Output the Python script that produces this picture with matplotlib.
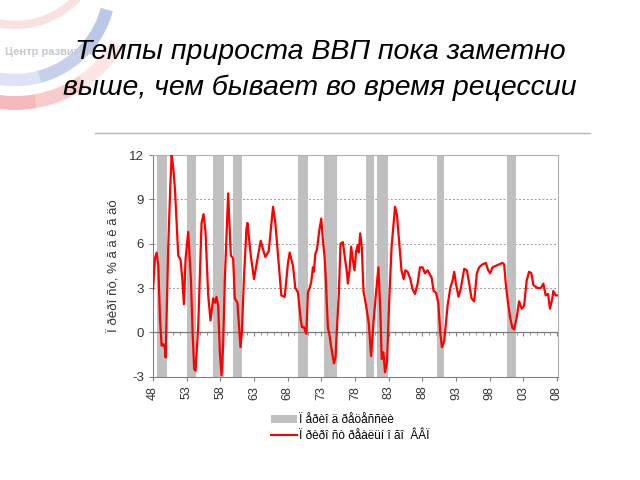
import matplotlib
matplotlib.use("Agg")
import matplotlib.pyplot as plt
from matplotlib.patches import Arc, Patch
from matplotlib.lines import Line2D
import numpy as np

plt.rcParams['font.family'] = ['Liberation Sans', 'DejaVu Sans']

# ---------------- data ----------------
title = "Темпы прироста ВВП пока заметно\nвыше, чем бывает во время рецессии"
logo_text = "Центр развития"
ylabel = "Ï ðèðî ñò, % ã ä ê ã äó"
legend_recession = "Ï åðèî ä ðåöåññèè"
legend_gdp = "Ï ðèðî ñò ðåàëüí î ãî  ÂÂÏ"

years = [1948.0, 1948.3, 1948.54, 1948.79, 1949.04, 1949.28, 1949.53, 1949.78, 1949.88,
         1950.27, 1950.57, 1950.77, 1951.01, 1951.26, 1951.75, 1952.1, 1952.35, 1952.59,
         1952.84, 1953.23, 1953.63, 1953.88, 1954.12, 1954.32, 1954.72, 1955.21, 1955.51,
         1955.8, 1956.2, 1956.54, 1956.94, 1957.2, 1957.43, 1957.68, 1957.93, 1958.17,
         1958.42, 1958.67, 1959.16, 1959.56, 1959.9, 1960.15, 1960.54, 1960.99, 1961.2,
         1961.5, 1961.88, 1962.03, 1962.52, 1963.01, 1963.6, 1964.0, 1964.35, 1964.69,
         1965.19, 1965.83, 1966.17, 1966.57, 1967.06, 1967.56, 1968.05, 1968.3, 1968.79,
         1969.14, 1969.53, 1969.93, 1970.12, 1970.42, 1970.77, 1971.01, 1971.26, 1971.5,
         1971.75, 1971.9, 1972.1, 1972.35, 1972.7, 1972.99, 1973.2, 1973.48, 1973.6,
         1973.83, 1973.98, 1974.22, 1974.47, 1974.72, 1974.87, 1975.11, 1975.3, 1975.6,
         1975.85, 1976.2, 1976.54, 1976.79, 1976.94, 1977.19, 1977.43, 1977.68, 1977.93,
         1978.17, 1978.4, 1978.55, 1978.77, 1979.01, 1979.26, 1979.65, 1980.05, 1980.39,
         1980.79, 1981.13, 1981.48, 1981.77, 1981.97, 1982.22, 1982.46, 1982.76, 1983.11,
         1983.45, 1983.95, 1984.24, 1984.59, 1984.9, 1985.23, 1985.48, 1985.82, 1986.22,
         1986.56, 1986.91, 1987.3, 1987.65, 1988.04, 1988.39, 1988.79, 1989.38, 1989.67,
         1990.02, 1990.37, 1990.66, 1990.91, 1991.25, 1991.75, 1992.15, 1992.49, 1992.74,
         1992.99, 1993.38, 1993.73, 1994.22, 1994.62, 1994.96, 1995.31, 1995.7, 1996.1,
         1996.44, 1996.93, 1997.43, 1997.78, 1998.07, 1998.42, 1998.91, 1999.41, 1999.9,
         2000.15, 2000.39, 2000.64, 2001.04, 2001.38, 2001.63, 2002.02, 2002.37, 2002.76,
         2003.11, 2003.5, 2003.85, 2004.2, 2004.49, 2005.09, 2005.58, 2005.98, 2006.32,
         2006.67, 2006.96, 2007.31, 2007.46, 2007.8, 2008.15]
gdp_growth = [2.9, 5.0, 5.4, 4.5, 0.9, -0.9, -0.8, -1.1, -1.7,
              5.9, 9.9, 12.0, 11.1, 9.7, 5.2, 4.9, 3.6, 1.9,
              5.0, 6.8, 3.6, 0.0, -2.5, -2.6, 0.45, 7.4, 8.0,
              6.8, 2.5, 0.8, 2.3, 2.0, 2.4, 1.8, -1.35, -2.9,
              -0.9, 3.6, 9.4, 5.2, 5.0, 2.3, 2.0, -1.0, 0.0,
              3.6, 7.0, 7.4, 5.2, 3.6, 5.2, 6.2, 5.6, 5.1,
              5.5, 8.5, 7.4, 5.2, 2.5, 2.4, 4.7, 5.4, 4.5,
              3.0, 2.7, 0.9, 0.35, 0.35, -0.1, 2.7, 3.0, 3.4,
              4.4, 4.1, 5.3, 5.6, 6.9, 7.7, 6.4, 5.1, 4.2,
              1.9, 0.3, -0.2, -1.0, -1.7, -2.1, -1.7, 0.1, 2.6,
              6.0, 6.1, 4.9, 4.1, 3.3, 4.2, 5.8, 4.9, 4.2,
              5.5, 5.9, 5.4, 6.7, 5.8, 2.8, 1.8, 0.6, -1.6,
              0.9, 2.7, 4.4, 1.35, -1.8, -1.35, -2.7, -2.0, 2.5,
              5.9, 8.5, 7.9, 5.9, 4.2, 3.6, 4.2, 4.1, 3.6,
              2.9, 2.6, 3.3, 4.4, 4.4, 4.0, 4.2, 3.7, 2.8,
              2.7, 2.0, 0.0, -1.0, -0.6, 1.8, 3.0, 3.5, 4.1,
              3.3, 2.4, 3.0, 4.3, 4.2, 3.3, 2.3, 2.1, 4.0,
              4.4, 4.6, 4.7, 4.2, 4.0, 4.4, 4.5, 4.6, 4.7,
              4.6, 3.3, 2.3, 1.0, 0.3, 0.2, 1.0, 2.1, 1.6,
              1.8, 3.5, 4.1, 4.0, 3.2, 3.0, 3.0, 3.3, 2.5,
              2.6, 1.6, 2.3, 2.8, 2.5, 2.5]

recession_start = [1948.54, 1952.99, 1956.94, 1959.95, 1969.5, 1973.45, 1979.65, 1981.23, 1990.17, 2000.64]
recession_end   = [1950.12, 1954.32, 1958.52, 1961.28, 1971.0, 1975.26, 1980.8, 1982.96, 1991.2, 2001.87]

xtick_years = list(range(1948, 2009, 5))
xtick_labels = ["48", "53", "58", "63", "68", "73", "78", "83", "88", "93", "98", "03", "08"]
ytick_values = [-3, 0, 3, 6, 9, 12]

# ---------------- figure ----------------
fig = plt.figure(figsize=(6.4, 4.8), dpi=100)

# background decoration (logo swirl) in pixel coordinates
bg = fig.add_axes([0, 0, 1, 1], zorder=0)
bg.set_xlim(0, 640)
bg.set_ylim(480, 0)
bg.axis('off')
# faint top red arc
bg.add_patch(Arc((15, -60), 170, 170, theta1=20, theta2=120, color='#f6c4c4', lw=6, alpha=0.5))
# blue arc (fading towards the left)
for t1, t2, al in [(15, 45, 0.6), (45, 75, 0.5), (75, 100, 0.3), (100, 120, 0.15)]:
    bg.add_patch(Arc((15, -15), 190, 190, theta1=t1, theta2=t2, color='#8ea3d6', lw=9, alpha=al))
# red arc (fading towards the right)
for t1, t2, al in [(30, 55, 0.2), (55, 80, 0.4), (80, 100, 0.55), (100, 120, 0.55)]:
    bg.add_patch(Arc((15, -15), 236, 236, theta1=t1, theta2=t2, color='#ef8080', lw=10, alpha=al))
bg.text(5, 52, logo_text, fontsize=8, color='#c4c8d0', fontweight='bold',
        va='center', ha='left')
bg.plot([95, 590], [133, 133], color='#b4b4b4', lw=1.0)

fig.text(0.5, 1 - 70 / 480, title, fontsize=20.5, style='italic', ha='center',
         va='center', color='black', linespacing=1.5, zorder=5,
         family=['Liberation Sans', 'DejaVu Sans'])

ax = fig.add_axes([153 / 640, 1 - 376.7 / 480, 405 / 640, (376.7 - 155) / 480], zorder=2)
ax.set_facecolor('none')

for s, e in zip(recession_start, recession_end):
    ax.axvspan(s, e, color='#c0c0c0', lw=0, zorder=1)

for yv in [3, 6, 9]:
    ax.axhline(yv, color='#9a9a9a', lw=0.7, ls=(0, (2, 2)), zorder=0.5)
ax.axhline(0, color='#7a7a7a', lw=0.9, zorder=2)

ax.plot(years, gdp_growth, color='#ff0000', lw=1.6, zorder=3, solid_joinstyle='round')

ax.set_xlim(1948, 2008.15)
ax.set_ylim(-3, 12)
ax.set_xticks(xtick_years)
ax.set_xticklabels(xtick_labels, rotation=90, fontsize=9, color='#333333')
ax.set_yticks(ytick_values)
ax.set_yticklabels([str(v) for v in ytick_values], fontsize=9.5, color='#333333')
ax.tick_params(axis='both', length=3, color='#808080', width=0.8)
for sp in ['top', 'right']:
    ax.spines[sp].set_color('#b0b0b0')
for sp in ['left', 'bottom']:
    ax.spines[sp].set_color('#808080')
ax.set_ylabel(ylabel, fontsize=9.5, color='#333333', labelpad=6)

# small ticks along the zero line
sec = ax.secondary_xaxis(0.2)
sec.set_xticks(xtick_years)
sec.set_xticks(list(range(1948, 2009)), minor=True)
sec.set_xticklabels([])
sec.tick_params(axis='x', which='major', length=3, direction='out', color='#808080')
sec.tick_params(axis='x', which='minor', length=2, direction='out', color='#808080')
sec.spines['bottom'].set_visible(False)

handles = [Patch(facecolor='#c0c0c0', edgecolor='none'),
           Line2D([], [], color='#ff0000', lw=1.5)]
fig.legend(handles, [legend_recession, legend_gdp], loc='center left',
           bbox_to_anchor=(265 / 640, 1 - 428 / 480), frameon=False, fontsize=8.5,
           handlelength=2.2, handletextpad=0.2, labelspacing=0.35, borderpad=0)

fig.savefig("out.png", dpi=100)
